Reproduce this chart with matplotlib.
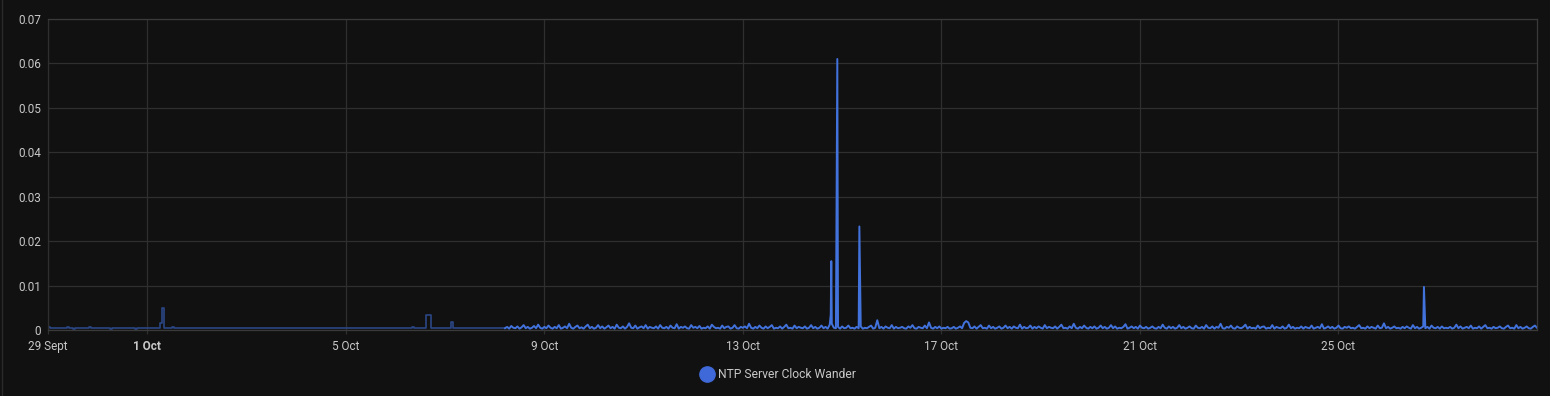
import numpy as np
import pandas as pd
import matplotlib
matplotlib.use("Agg")
import matplotlib.pyplot as plt
from matplotlib.lines import Line2D

plt.rcParams['font.family'] = ['Roboto', 'DejaVu Sans']

# hourly statistics (older, darker line) in units of 1e-4, from 29 Sept 00:00
stats_start = "2024-09-29 00:00"
stats_e4 = [
    6, 5, 5, 4, 4, 5, 4, 4, 5, 6, 4, 4, 3, 4, 5, 5, 4, 4, 4, 5, 6, 5, 4, 4,
    4, 4, 5, 5, 4, 4, 3, 4, 4, 5, 5, 4, 4, 4, 4, 5, 4, 4, 3, 4, 4, 4, 4, 5,
    4, 4, 4, 4, 4, 4, 15, 50, 4, 4, 5, 5, 6, 5, 4, 4, 5, 4, 4, 4, 5, 4, 4, 4,
    5, 4, 4, 4, 5, 4, 4, 4, 4, 5, 4, 4, 4, 5, 5, 4, 4, 4, 4, 4, 5, 4, 4, 4,
    4, 4, 5, 4, 4, 4, 4, 4, 5, 4, 4, 4, 4, 4, 4, 5, 4, 4, 4, 4, 4, 4, 5, 4,
    4, 4, 4, 4, 5, 4, 4, 4, 4, 4, 4, 5, 4, 4, 4, 4, 4, 4, 5, 4, 4, 4, 4, 4,
    5, 4, 4, 4, 4, 4, 4, 5, 4, 4, 4, 4, 4, 4, 4, 5, 5, 4, 4, 4, 4, 4, 4, 4,
    4, 4, 5, 4, 4, 4, 4, 5, 6, 5, 4, 4, 4, 4, 4, 33, 33, 4, 4, 4, 4, 4, 4, 4,
    4, 4, 4, 18, 4, 4, 4, 4, 4, 4, 4, 4, 4, 4, 4, 4, 4, 4, 4, 4, 4, 4, 4, 4,
    4, 4, 4, 4, 4, 4,
]

# recent hourly values (bright line) in units of 1e-4, from 8 Oct 05:00
recent_start = "2024-10-08 05:00"
recent_e4 = [
    4, 7, 3, 9, 5, 4, 8, 3, 6, 11, 4, 7, 3, 5, 9, 4, 12, 5, 3, 7, 4, 10, 5, 3,
    7, 4, 11, 3, 5, 8, 4, 14, 5, 3, 7, 10, 4, 6, 3, 8, 12, 4, 7, 3, 5, 11, 4, 8,
    3, 6, 10, 4, 7, 3, 12, 5, 4, 8, 3, 7, 15, 5, 4, 10, 3, 6, 8, 4, 11, 3, 7, 5,
    4, 8, 3, 11, 5, 4, 7, 3, 10, 5, 4, 13, 3, 7, 5, 8, 4, 3, 11, 5, 7, 4, 9, 3,
    5, 4, 8, 3, 12, 7, 4, 5, 3, 10, 4, 7, 8, 3, 5, 11, 4, 3, 7, 5, 8, 4, 14, 5,
    3, 7, 4, 10, 5, 3, 8, 4, 7, 11, 3, 5, 4, 8, 3, 7, 12, 4, 5, 3, 10, 4, 7, 5,
    4, 8, 3, 5, 11, 4, 7, 3, 5, 10, 4, 7, 3, 12, 14, 5, 4, 7, 3, 8, 4, 5, 10, 4,
    5, 3, 7, 4, 8, 3, 5, 4, 7, 10, 3, 5, 22, 4, 7, 3, 8, 5, 4, 11, 3, 7, 4, 5,
    7, 4, 3, 8, 5, 11, 4, 3, 7, 5, 4, 10, 4, 17, 5, 3, 7, 4, 8, 3, 5, 4, 7, 3,
    4, 7, 3, 5, 8, 4, 16, 20, 17, 5, 4, 8, 3, 7, 11, 4, 5, 3, 10, 4, 7, 3, 5, 8,
    3, 5, 10, 4, 7, 3, 8, 5, 4, 12, 3, 7, 4, 5, 10, 3, 7, 4, 8, 5, 3, 11, 4, 7,
    5, 4, 8, 3, 7, 12, 4, 5, 3, 8, 4, 14, 5, 3, 7, 4, 10, 5, 3, 7, 4, 8, 3, 5,
    10, 4, 7, 3, 5, 11, 4, 8, 3, 5, 4, 7, 13, 3, 5, 8, 4, 7, 3, 10, 5, 4, 7, 3,
    5, 8, 4, 3, 7, 4, 12, 5, 3, 8, 4, 7, 3, 5, 11, 4, 7, 3, 5, 8, 4, 3, 10, 5,
    4, 7, 3, 11, 5, 4, 8, 3, 7, 5, 14, 4, 3, 7, 5, 10, 4, 3, 8, 5, 4, 7, 12, 3,
    7, 4, 5, 3, 10, 4, 7, 8, 3, 5, 4, 11, 3, 7, 5, 4, 8, 3, 5, 12, 4, 7, 3, 5,
    4, 8, 3, 7, 5, 4, 10, 3, 5, 7, 4, 13, 3, 5, 8, 4, 7, 3, 5, 10, 4, 3, 7, 5,
    8, 4, 5, 3, 7, 11, 4, 5, 3, 8, 4, 7, 5, 3, 10, 4, 5, 15, 4, 7, 3, 5, 8, 4,
    5, 3, 7, 4, 8, 5, 3, 11, 4, 7, 3, 5, 8, 4, 7, 3, 10, 5, 4, 7, 3, 8, 4, 5,
    4, 7, 3, 5, 12, 4, 8, 3, 5, 7, 4, 10, 3, 5, 4, 8, 3, 7, 11, 4, 5, 3, 7, 4,
    5, 8, 4, 3, 7, 10, 4, 5, 3, 11, 4, 7, 3, 5, 8, 4, 3, 7, 10, 5,
]

# short spikes between the hourly samples
spike_times = ["2024-10-14 18:30", "2024-10-14 18:45", "2024-10-14 21:40",
               "2024-10-15 08:20", "2024-10-26 17:20"]
spike_values = [0.0035, 0.0155, 0.061, 0.0233, 0.0097]

tick_dates = ["2024-09-29", "2024-10-01", "2024-10-05", "2024-10-09",
              "2024-10-13", "2024-10-17", "2024-10-21", "2024-10-25"]
tick_labels = ["29 Sept", "1 Oct", "5 Oct", "9 Oct", "13 Oct", "17 Oct", "21 Oct", "25 Oct"]
y_ticks = [0, 0.01, 0.02, 0.03, 0.04, 0.05, 0.06, 0.07]
y_labels = ["0", "0.01", "0.02", "0.03", "0.04", "0.05", "0.06", "0.07"]

stats = pd.Series(np.array(stats_e4) * 1e-4,
                  index=pd.date_range(stats_start, periods=len(stats_e4), freq="h"))
recent = pd.Series(np.array(recent_e4) * 1e-4,
                   index=pd.date_range(recent_start, periods=len(recent_e4), freq="h"))
spikes = pd.Series(spike_values, index=pd.to_datetime(spike_times))
recent = pd.concat([recent, spikes]).sort_index()

bg = "#111111"
grid_c = "#2f2f2f"
text_c = "#c8c8c8"

fig = plt.figure(figsize=(15.5, 3.96), dpi=100, facecolor=bg)
ax = fig.add_axes([48 / 1550, 66 / 396, 1489 / 1550, 311 / 396], facecolor=bg)

ax.plot(stats.index, stats.values, color="#2a4684", lw=1.2, drawstyle="steps-post")
ax.plot(recent.index, recent.values, color="#4272dc", lw=1.4)

ax.set_xlim(pd.Timestamp("2024-09-29"), pd.Timestamp("2024-10-29"))
ax.set_ylim(0, 0.07)
ax.set_yticks(y_ticks)
ax.set_yticklabels(y_labels)
ax.set_xticks(pd.to_datetime(tick_dates))
ax.set_xticklabels(tick_labels)
for lbl in ax.get_xticklabels():
    if lbl.get_text() == "1 Oct":
        lbl.set_fontweight("bold")

ax.grid(True, color=grid_c, lw=0.9)
ax.set_axisbelow(True)
ax.tick_params(axis="x", colors=grid_c, labelcolor=text_c, labelsize=8.5,
               length=3, width=0.9, pad=4)
ax.tick_params(axis="y", colors=grid_c, labelcolor=text_c, labelsize=8.5,
               length=0, pad=5)
for s in ax.spines.values():
    s.set_color("#3a3a3a")
    s.set_linewidth(0.9)
ax.spines["left"].set_color(grid_c)

fig.add_artist(Line2D([1.5 / 1550, 1.5 / 1550], [0, 1], color="#2a2a2a", lw=1))

handle = Line2D([], [], ls="none", marker="o", markersize=11,
                markerfacecolor="#3f69d8", markeredgecolor="#3f69d8")
leg = fig.legend([handle], ["NTP Server Clock Wander"], loc="center",
                 bbox_to_anchor=(0.502, 21 / 396), frameon=False,
                 fontsize=8.7, handletextpad=0.4, handlelength=1.0)
for t in leg.get_texts():
    t.set_color(text_c)

fig.savefig("out.png", dpi=100, facecolor=bg)
